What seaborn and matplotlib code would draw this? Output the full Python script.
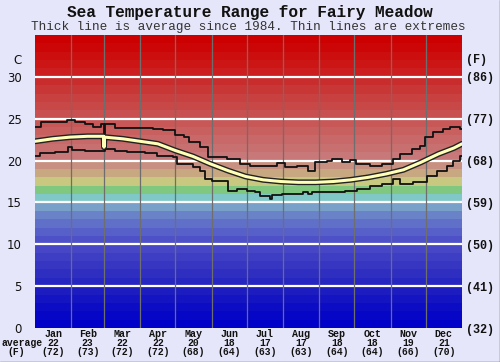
import numpy as np
import pandas as pd
import matplotlib
matplotlib.use("Agg")
import matplotlib.pyplot as plt
import matplotlib.transforms as mtransforms
import seaborn as sns

# Etiketler
months = ["Jan", "Feb", "Mar", "Apr", "May", "Jun", "Jul", "Aug", "Sep", "Oct", "Nov", "Dec"]
avg_c_labels = ["22", "23", "22", "22", "20", "18", "17", "17", "18", "18", "19", "21"]
avg_f_labels = ["(72)", "(73)", "(72)", "(72)", "(68)", "(64)", "(63)", "(63)", "(64)", "(64)", "(66)", "(70)"]
c_ticks = [0, 5, 10, 15, 20, 25, 30]
f_tick_labels = ["(32)", "(41)", "(50)", "(59)", "(68)", "(77)", "(86)"]
month_start_days = [0, 31, 59, 90, 120, 151, 181, 212, 243, 273, 304, 334, 365]

# Ortalama sicaklik (gun, C)
avg_day = [0, 15, 30, 45, 58.6, 59, 59.4, 75, 90, 105, 120, 135, 150, 165, 180, 195,
           210, 225, 240, 255, 270, 285, 300, 315, 330, 345, 358, 365]
avg_temp = [22.3, 22.6, 22.8, 22.9, 22.9, 21.6, 22.8, 22.6, 22.3, 22.0, 21.2, 20.5,
            19.6, 18.8, 18.1, 17.7, 17.5, 17.4, 17.4, 17.5, 17.7, 18.0, 18.4, 18.9,
            19.8, 20.8, 21.5, 22.0]

# En yuksek degerler
max_day = [0, 5, 27, 34, 43, 50, 56, 59, 60, 68, 101, 109, 120, 127, 132, 141, 148,
           164, 175, 184, 207, 214, 224, 233, 239, 250, 254, 262, 269, 274, 286, 297,
           306, 312, 322, 329, 333, 340, 349, 355, 363, 365]
max_temp = [24.0, 24.6, 24.8, 24.6, 24.4, 24.0, 24.4, 21.5, 24.4, 23.9, 23.8, 23.6,
            23.0, 22.8, 22.2, 21.6, 20.4, 20.2, 19.6, 19.4, 19.7, 19.2, 19.4, 18.8,
            19.8, 20.0, 20.2, 19.8, 20.1, 19.6, 19.3, 19.6, 20.2, 20.8, 21.4, 21.8,
            22.8, 23.4, 23.8, 24.0, 23.8, 23.8]

# En dusuk degerler
min_day = [0, 4, 17, 28, 32, 43, 60, 68, 79, 94, 104, 118, 121, 135, 141, 145, 151,
           165, 173, 181, 188, 192, 201, 203, 211, 229, 233, 237, 250, 265, 275, 286,
           297, 306, 312, 323, 335, 344, 352, 357, 363, 365]
min_temp = [20.6, 20.9, 21.0, 21.6, 21.3, 21.2, 21.4, 21.1, 21.0, 20.9, 20.6, 20.4,
            19.6, 19.2, 18.8, 17.8, 17.6, 16.4, 16.6, 16.4, 16.2, 15.8, 15.4, 15.9,
            16.0, 16.2, 16.0, 16.2, 16.3, 16.4, 16.6, 17.0, 17.2, 17.8, 17.2, 17.4,
            18.2, 18.8, 19.4, 20.0, 20.5, 20.6]

# Arka plan renk bantlari (her derece icin bir renk, 0'dan 35'e)
band_colors = [
    "#0000c8", "#0606c6", "#0c0cc4", "#1414c2", "#1c1cc0",
    "#2626c0", "#2e2ec0", "#3636c2", "#3e3ec4", "#4646c6",
    "#4e50c8", "#5660c8", "#6070c8", "#6a82c8", "#78a0c8",
    "#80c8c8", "#80c880", "#c8c880", "#c8a880", "#c89080",
    "#c87878", "#c87070", "#c86868", "#c86060", "#c85858",
    "#c85050", "#c84848", "#c84040", "#c83636", "#c82c2c",
    "#cc1e1e", "#cc1616", "#cc0e0e", "#cc0606", "#cc0000",
]

mono = "Liberation Mono"

sns.set_theme(style="white")
fig = plt.figure(figsize=(5.0, 3.62), dpi=100, facecolor="#e6e6fa")
ax = fig.add_axes([35 / 500, 34 / 362, 427 / 500, 293 / 362])

for i, c in enumerate(band_colors):
    ax.axhspan(i, i + 1, color=c, lw=0, zorder=0)
for t in c_ticks[1:]:
    ax.axhline(t, color="white", lw=1.6, zorder=1)
for d in month_start_days[1:-1]:
    ax.axvline(d, color="#6e6e6e", lw=0.9, zorder=1.5)

df_avg = pd.DataFrame({"gun": avg_day, "sicaklik": avg_temp})
df_max = pd.DataFrame({"gun": max_day, "sicaklik": max_temp})
df_min = pd.DataFrame({"gun": min_day, "sicaklik": min_temp})

sns.lineplot(data=df_max, x="gun", y="sicaklik", ax=ax, color="#111111", lw=1.3,
             drawstyle="steps-post", zorder=3)
sns.lineplot(data=df_min, x="gun", y="sicaklik", ax=ax, color="#111111", lw=1.3,
             drawstyle="steps-post", zorder=3)
sns.lineplot(data=df_avg, x="gun", y="sicaklik", ax=ax, color="#222222", lw=4.2, zorder=4)
sns.lineplot(data=df_avg, x="gun", y="sicaklik", ax=ax, color="#ffffb8", lw=2.2, zorder=5)

ax.set_xlim(0, 365)
ax.set_ylim(0, 35)
ax.set_xlabel("")
ax.set_ylabel("")
ax.set_xticks([])
for s in ax.spines.values():
    s.set_visible(False)

ax.set_yticks(c_ticks)
ax.set_yticklabels([str(t) for t in c_ticks], fontfamily="DejaVu Sans", fontsize=8.5,
                   color="#111111")
ax.tick_params(axis="y", length=0, pad=9.5)

ax2 = ax.twinx()
ax2.set_ylim(0, 35)
ax2.set_yticks(c_ticks)
ax2.set_yticklabels(f_tick_labels, fontfamily=mono, fontweight="bold", fontsize=8.5,
                    color="#111111")
ax2.tick_params(axis="y", length=0, pad=3)
for s in ax2.spines.values():
    s.set_visible(False)

fy = mtransforms.blended_transform_factory(fig.transFigure, ax.transData)
ax.text(22 / 500, 32, "C", transform=fy, ha="right", va="center",
        fontfamily="DejaVu Sans", fontsize=8.5, color="#111111")
ax.text(466 / 500, 32, "(F)", transform=fy, ha="left", va="center",
        fontfamily=mono, fontweight="bold", fontsize=8.5, color="#111111")

# Baslik
fig.text(250 / 500, 1 - 12 / 362, "Sea Temperature Range for Fairy Meadow",
         ha="center", va="center", fontfamily=mono, fontweight="bold", fontsize=11.6,
         color="#111111")
fig.text(248 / 500, 1 - 27 / 362, "Thick line is average since 1984. Thin lines are extremes",
         ha="center", va="center", fontfamily=mono, fontsize=9.1, color="#333333")

# Alt etiketler
xy = mtransforms.blended_transform_factory(ax.transData, fig.transFigure)
centers = [(month_start_days[i] + month_start_days[i + 1]) / 2 for i in range(12)]
for cx, m, c, f in zip(centers, months, avg_c_labels, avg_f_labels):
    ax.text(cx, 1 - 334 / 362, m, transform=xy, ha="center", va="center",
            fontfamily=mono, fontweight="bold", fontsize=7.2, color="#111111")
    ax.text(cx, 1 - 343 / 362, c, transform=xy, ha="center", va="center",
            fontfamily=mono, fontweight="bold", fontsize=7.0, color="#111111")
    ax.text(cx, 1 - 352 / 362, f, transform=xy, ha="center", va="center",
            fontfamily=mono, fontweight="bold", fontsize=7.0, color="#111111")
fig.text(1 / 500, 1 - 343 / 362, "average", ha="left", va="center",
         fontfamily=mono, fontweight="bold", fontsize=7.0, color="#111111")
fig.text(16 / 500, 1 - 352 / 362, "(F)", ha="center", va="center",
         fontfamily=mono, fontweight="bold", fontsize=7.0, color="#111111")

# Cerceve
fig.add_artist(plt.Line2D([499.5 / 500, 499.5 / 500], [0, 1], transform=fig.transFigure,
                          color="#555555", lw=1))
fig.add_artist(plt.Line2D([0, 1], [0.5 / 362, 0.5 / 362], transform=fig.transFigure,
                          color="#555555", lw=1))

fig.savefig("out.png", dpi=100, facecolor=fig.get_facecolor())
